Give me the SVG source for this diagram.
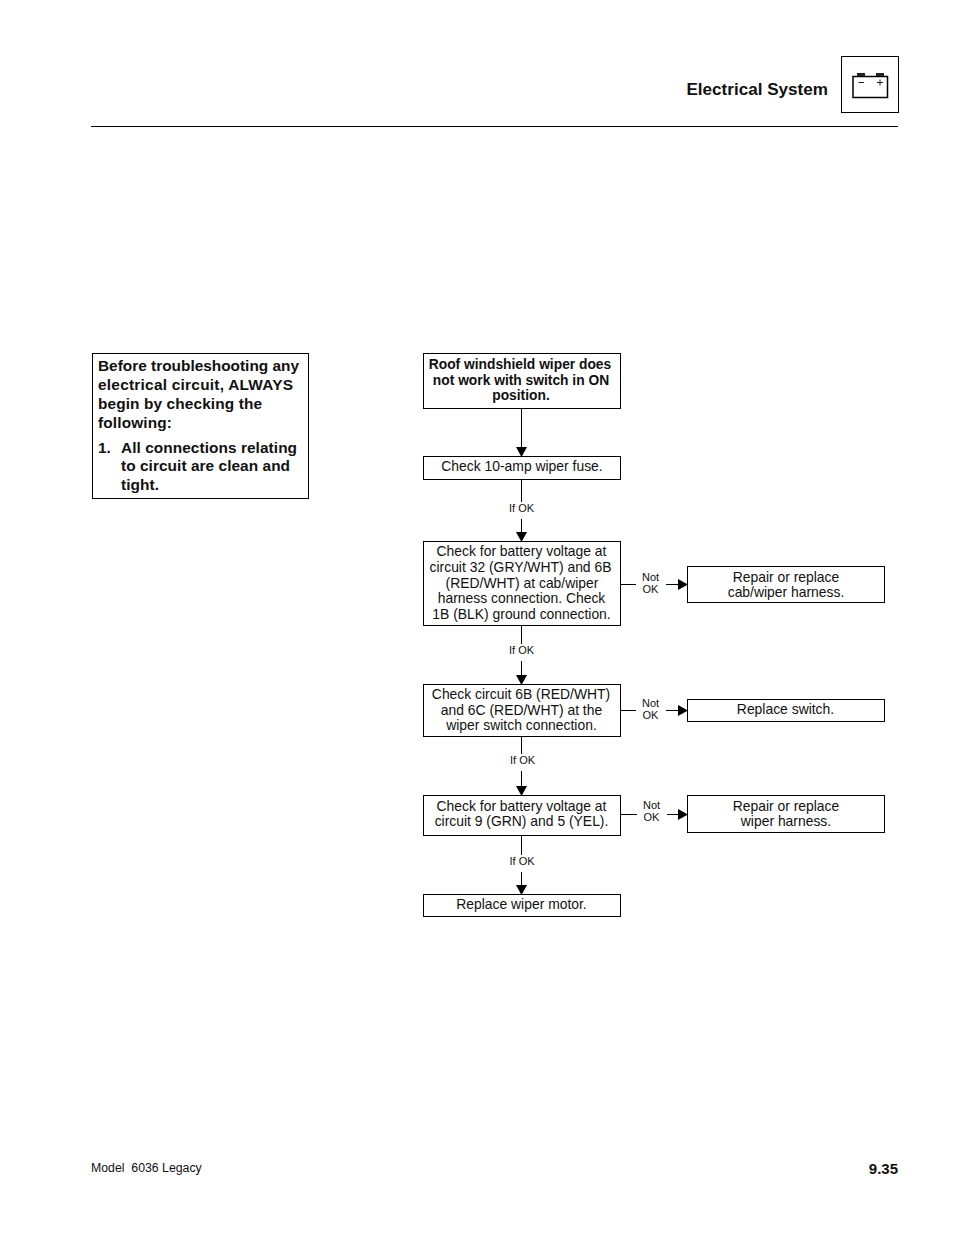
<svg xmlns="http://www.w3.org/2000/svg" width="954" height="1235" viewBox="0 0 954 1235">
<style>
text{font-family:"Liberation Sans",Arial,sans-serif;fill:#111}
.b{fill:#fff;stroke:#000;stroke-width:1}
.t{font-size:13.900px;text-anchor:middle}
.tb{font-size:13.800px;font-weight:bold;text-anchor:middle}
.n{font-size:15.400px;font-weight:bold}
.s{font-size:11px;text-anchor:middle}
.c{fill:none;stroke:#000;stroke-width:1}
</style>
<defs>
<marker id="a" markerUnits="userSpaceOnUse" markerWidth="10" markerHeight="11" refX="10" refY="5.500" orient="auto"><path d="M0,0L10,5.500L0,11z" fill="#000"/></marker>
</defs>
<rect width="954" height="1235" fill="#fff"/>
<g id="header">
<text x="828" y="95" text-anchor="end" style="font-size:17.100px;font-weight:bold">Electrical System</text>
<rect x="841.500" y="56.500" width="57" height="56" fill="none" stroke="#000"/>
<path d="M853 76.500H887.500V97.500H853z" fill="none" stroke="#000" stroke-width="1.500"/>
<path d="M857 73h8v3h-8zM876 73h8v3h-8z" fill="#222"/>
<path d="M858.500 82.500h5.500M877 82.500h6M880 79.500v6" stroke="#222" fill="none"/>
<path d="M91 126.500H898" stroke="#000"/>
</g>
<g id="note">
<rect class="b" x="92.500" y="353.500" width="216" height="145"/>
<text class="n" x="98" y="371" textLength="201">Before troubleshooting any</text>
<text class="n" x="98" y="390" textLength="195">electrical circuit, ALWAYS</text>
<text class="n" x="98" y="409" textLength="164">begin by checking the</text>
<text class="n" x="98" y="428" textLength="74">following:</text>
<text class="n" x="98" y="453">1.</text>
<text class="n" x="121" y="453" textLength="176">All connections relating</text>
<text class="n" x="121" y="471" textLength="169">to circuit are clean and</text>
<text class="n" x="121" y="490" textLength="38">tight.</text>
</g>
<g id="connectors">
<path class="c" d="M521.500 409V457" marker-end="url(#a)"/>
<path class="c" d="M521.500 480V502M521.500 519V542" marker-end="url(#a)"/>
<path class="c" d="M521.500 626V644M521.500 661V685" marker-end="url(#a)"/>
<path class="c" d="M521.500 737V754M521.500 771V796" marker-end="url(#a)"/>
<path class="c" d="M521.500 836V855M521.500 872V895" marker-end="url(#a)"/>
<path class="c" d="M621 584.500H636M666 584.500H688" marker-end="url(#a)"/>
<path class="c" d="M621 710.500H636M666 710.500H688" marker-end="url(#a)"/>
<path class="c" d="M621 814.500H637M667 814.500H688" marker-end="url(#a)"/>
</g>
<g id="n1"><rect class="b" x="423.500" y="353.500" width="197" height="55"/>
<text class="tb" x="520" y="369">Roof windshield wiper does</text><text class="tb" x="521" y="385">not work with switch in ON</text><text class="tb" x="521" y="400">position.</text></g>
<g id="n2"><rect class="b" x="423.500" y="456.500" width="197" height="23"/><text class="t" x="522" y="471">Check 10-amp wiper fuse.</text></g>
<g id="n3"><rect class="b" x="423.500" y="541.500" width="197" height="84"/>
<text class="t" x="521.500" y="556">Check for battery voltage at</text><text class="t" x="520.500" y="572">circuit 32 (GRY/WHT) and 6B</text><text class="t" x="522" y="588">(RED/WHT) at cab/wiper</text><text class="t" x="521.500" y="603">harness connection. Check</text><text class="t" x="521.500" y="619">1B (BLK) ground connection.</text></g>
<g id="n4"><rect class="b" x="423.500" y="684.500" width="197" height="52"/>
<text class="t" x="521" y="699">Check circuit 6B (RED/WHT)</text><text class="t" x="521.500" y="715">and 6C (RED/WHT) at the</text><text class="t" x="521.500" y="730">wiper switch connection.</text></g>
<g id="n5"><rect class="b" x="423.500" y="795.500" width="197" height="40"/>
<text class="t" x="521.500" y="811">Check for battery voltage at</text><text class="t" x="521.500" y="826">circuit 9 (GRN) and 5 (YEL).</text></g>
<g id="n6"><rect class="b" x="423.500" y="894.500" width="197" height="22"/><text class="t" x="521.500" y="909">Replace wiper motor.</text></g>
<g id="n7"><rect class="b" x="687.500" y="566.500" width="197" height="36"/>
<text class="t" x="786" y="582">Repair or replace</text><text class="t" x="786" y="597">cab/wiper harness.</text></g>
<g id="n8"><rect class="b" x="687.500" y="699.500" width="197" height="22"/><text class="t" x="785.500" y="714">Replace switch.</text></g>
<g id="n9"><rect class="b" x="687.500" y="795.500" width="197" height="37"/>
<text class="t" x="786" y="811">Repair or replace</text><text class="t" x="786" y="826">wiper harness.</text></g>
<g id="labels">
<text class="s" x="521.500" y="512">If OK</text>
<text class="s" x="521.500" y="654">If OK</text>
<text class="s" x="522.500" y="764">If OK</text>
<text class="s" x="522" y="865">If OK</text>
<text class="s" x="650.500" y="581">Not</text><text class="s" x="650.500" y="593">OK</text>
<text class="s" x="650.500" y="707">Not</text><text class="s" x="650.500" y="719">OK</text>
<text class="s" x="651.500" y="809">Not</text><text class="s" x="651.500" y="821">OK</text>
</g>
<g id="footer">
<text x="91" y="1172" style="font-size:12.300px" xml:space="preserve">Model  6036 Legacy</text>
<text x="898" y="1174" text-anchor="end" style="font-size:15px;font-weight:bold">9.35</text>
</g>
</svg>
